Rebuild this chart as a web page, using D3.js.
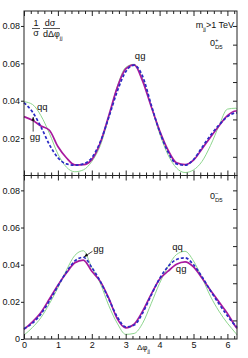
<!DOCTYPE html>
<html>
<head>
<meta charset="utf-8">
<script src="https://cdn.jsdelivr.net/npm/d3@7"></script>
<style>
  body { margin: 0; background: #fff; }
  text { font-family: "Liberation Sans", Arial, sans-serif; fill: #111; }
</style>
</head>
<body>
<script>
// delta phi_jj sample points
const phi = [0, 0.25, 0.5, 0.75, 1.0, 1.25, 1.5, 1.75, 2.0, 2.25, 2.5, 2.75, 3.0, 3.25,
  3.5, 3.75, 4.0, 4.25, 4.5, 4.75, 5.0, 5.25, 5.5, 5.75, 6.0, 6.25, 6.283];

// top panel (0+ D5)
const topGG = [0.0315, 0.0295, 0.0265, 0.0242, 0.0155, 0.0095, 0.0057, 0.0058, 0.0085, 0.0175,
  0.0320, 0.0470, 0.0570, 0.0592, 0.0505, 0.0370, 0.0240, 0.0135, 0.0068, 0.0058, 0.0082,
  0.0142, 0.0205, 0.0265, 0.0320, 0.0345, 0.0345];
const topQG = [0.0390, 0.0340, 0.0260, 0.0165, 0.0095, 0.0062, 0.0055, 0.0062, 0.0095, 0.0180,
  0.0310, 0.0450, 0.0555, 0.0590, 0.0530, 0.0380, 0.0235, 0.0125, 0.0062, 0.0055, 0.0085,
  0.0150, 0.0215, 0.0270, 0.0315, 0.0335, 0.0335];
const topQQ = [0.0395, 0.0380, 0.0320, 0.0225, 0.0115, 0.0045, 0.0020, 0.0030, 0.0075, 0.0160,
  0.0310, 0.0475, 0.0578, 0.0595, 0.0515, 0.0370, 0.0225, 0.0110, 0.0040, 0.0016, 0.0030,
  0.0075, 0.0160, 0.0265, 0.0355, 0.0360, 0.0355];

// bottom panel (0- D5)
const botGG = [0.0052, 0.0092, 0.0143, 0.0215, 0.0290, 0.0355, 0.0410, 0.0425, 0.0365, 0.0310,
  0.0220, 0.0110, 0.0060, 0.0080, 0.0150, 0.0240, 0.0322, 0.0365, 0.0402, 0.0415, 0.0388,
  0.0328, 0.0263, 0.0200, 0.0138, 0.0065, 0.0057];
const botQG = [0.0055, 0.0085, 0.0135, 0.0205, 0.0285, 0.0360, 0.0420, 0.0440, 0.0385, 0.0310,
  0.0215, 0.0120, 0.0065, 0.0075, 0.0140, 0.0235, 0.0325, 0.0390, 0.0428, 0.0437, 0.0400,
  0.0335, 0.0260, 0.0190, 0.0125, 0.0070, 0.0065];
const botQQ = [0.0021, 0.0062, 0.0115, 0.0190, 0.0275, 0.0370, 0.0450, 0.0475, 0.0385, 0.0300,
  0.0180, 0.0085, 0.0025, 0.0030, 0.0085, 0.0190, 0.0300, 0.0390, 0.0455, 0.0472, 0.0420,
  0.0330, 0.0230, 0.0150, 0.0085, 0.0030, 0.0022];

const xTicks = [0, 1, 2, 3, 4, 5, 6];
const yTicks = [0.02, 0.04, 0.06, 0.08];

const width = 248;
const height = 358;

const svg = d3.select('body')
  .append('svg')
  .attr('width', width)
  .attr('height', height);

svg.append('defs').append('marker')
  .attr('id', 'arrow')
  .attr('viewBox', '0 0 10 10')
  .attr('refX', 9).attr('refY', 5)
  .attr('markerWidth', 5).attr('markerHeight', 5)
  .attr('orient', 'auto')
  .append('path')
  .attr('d', 'M0,1L10,5L0,9z')
  .attr('fill', '#111');

const x = d3.scaleLinear().domain([0, 2 * Math.PI]).range([24, 237]);

const series = [
  { color: '#8ed68e', width: 1, dash: null },
  { color: '#a8199e', width: 1.7, dash: null },
  { color: '#2b2bc4', width: 1.7, dash: '3,2' }
];

function drawPanel(top, bottom, data, showX) {
  const y = d3.scaleLinear().domain([0, 0.088]).range([bottom, top]);
  const g = svg.append('g');

  const line = d3.line()
    .x((d, i) => x(phi[i]))
    .y(d => y(d))
    .curve(d3.curveMonotoneX);

  data.forEach((vals, k) => {
    g.append('path')
      .attr('d', line(vals))
      .attr('fill', 'none')
      .attr('stroke', series[k].color)
      .attr('stroke-width', series[k].width)
      .attr('stroke-dasharray', series[k].dash);
  });

  // frame
  g.append('rect')
    .attr('x', x.range()[0]).attr('y', top)
    .attr('width', x.range()[1] - x.range()[0]).attr('height', bottom - top)
    .attr('fill', 'none').attr('stroke', '#222').attr('stroke-width', 1);

  const minorX = d3.range(0, 6.3, 0.2).filter(v => Math.abs(v - Math.round(v)) > 0.01);

  const addAxis = (axis, transform) => {
    const a = g.append('g').attr('transform', transform).call(axis);
    a.select('.domain').remove();
    a.selectAll('line').attr('stroke', '#222');
    a.selectAll('text').attr('font-size', 9).attr('fill', '#111');
    return a;
  };

  addAxis(d3.axisBottom(x).tickValues(xTicks).tickSize(-5).tickPadding(3)
    .tickFormat(showX ? d3.format('d') : ''), `translate(0,${bottom})`);
  addAxis(d3.axisBottom(x).tickValues(minorX).tickSize(-3).tickFormat(''), `translate(0,${bottom})`);
  addAxis(d3.axisTop(x).tickValues(xTicks).tickSize(-5).tickFormat(''), `translate(0,${top})`);
  addAxis(d3.axisTop(x).tickValues(minorX).tickSize(-3).tickFormat(''), `translate(0,${top})`);

  const leftVals = showX ? [0].concat(yTicks) : yTicks;
  addAxis(d3.axisLeft(y).tickValues(leftVals).tickSize(3).tickPadding(1)
    .tickFormat(d => d === 0 ? '0' : d3.format('.2f')(d)), `translate(${x.range()[0]},0)`);
  addAxis(d3.axisRight(y).tickValues(d3.range(0.01, 0.085, 0.01)).tickSize(-4).tickFormat(''),
    `translate(${x.range()[1]},0)`);

  return y;
}

const yTop = drawPanel(11, 175.5, [topQQ, topGG, topQG], false);
const yBot = drawPanel(175.5, 339, [botQQ, botGG, botQG], true);

// curve labels
const label = (yS, px, py, txt) =>
  svg.append('text').attr('x', x(px)).attr('y', yS(py)).attr('font-size', 9.5).text(txt);
const arrow = (yS, x1, y1, x2, y2) =>
  svg.append('line')
    .attr('x1', x(x1)).attr('y1', yS(y1)).attr('x2', x(x2)).attr('y2', yS(y2))
    .attr('stroke', '#111').attr('stroke-width', 0.8).attr('marker-end', 'url(#arrow)');

label(yTop, 0.38, 0.035, 'qq');
label(yTop, 0.17, 0.019, 'gg');
arrow(yTop, 0.27, 0.0235, 0.27, 0.0312);
label(yTop, 3.27, 0.0625, 'qg');

label(yBot, 2.04, 0.0467, 'gg');
arrow(yBot, 2.02, 0.0472, 1.78, 0.0443);
label(yBot, 4.37, 0.0477, 'qq');
label(yBot, 4.48, 0.0360, 'qg');

// y title: 1/sigma dsigma/dDeltaphi_jj
const yt = svg.append('g').attr('font-size', 9);
yt.append('text').attr('x', 36).attr('y', 26).attr('text-anchor', 'middle').text('1');
yt.append('line').attr('x1', 32).attr('x2', 40).attr('y1', 28.5).attr('y2', 28.5).attr('stroke', '#111').attr('stroke-width', 0.7);
yt.append('text').attr('x', 36).attr('y', 36).attr('text-anchor', 'middle').text('σ');
yt.append('text').attr('x', 50).attr('y', 26).attr('text-anchor', 'middle').text('dσ');
yt.append('line').attr('x1', 43).attr('x2', 60).attr('y1', 28.5).attr('y2', 28.5).attr('stroke', '#111').attr('stroke-width', 0.7);
const dphi = yt.append('text').attr('x', 43).attr('y', 37);
dphi.append('tspan').text('dΔφ');
dphi.append('tspan').attr('font-size', 6).attr('dy', 3).text('jj');

// top right notes
const m = svg.append('text').attr('x', 234).attr('y', 28).attr('text-anchor', 'end').attr('font-size', 9);
m.append('tspan').text('m');
m.append('tspan').attr('font-size', 6).attr('dy', 2.5).text('jj');
m.append('tspan').attr('dy', -2.5).text('>1 TeV');

const ope = (yPos, sign) => {
  const t = svg.append('text').attr('x', 210).attr('y', yPos).attr('font-size', 9);
  t.append('tspan').text('0');
  t.append('tspan').attr('font-size', 6).attr('dy', -4).text(sign);
  t.append('tspan').attr('font-size', 6).attr('dx', -3.5).attr('dy', 7).text('D5');
};
ope(46, '+');
ope(199, '−');

// x title
const xt = svg.append('text').attr('x', 137).attr('y', 350).attr('font-size', 8);
xt.append('tspan').text('Δφ');
xt.append('tspan').attr('font-size', 5.5).attr('dy', 3).text('jj');
</script>
</body>
</html>
